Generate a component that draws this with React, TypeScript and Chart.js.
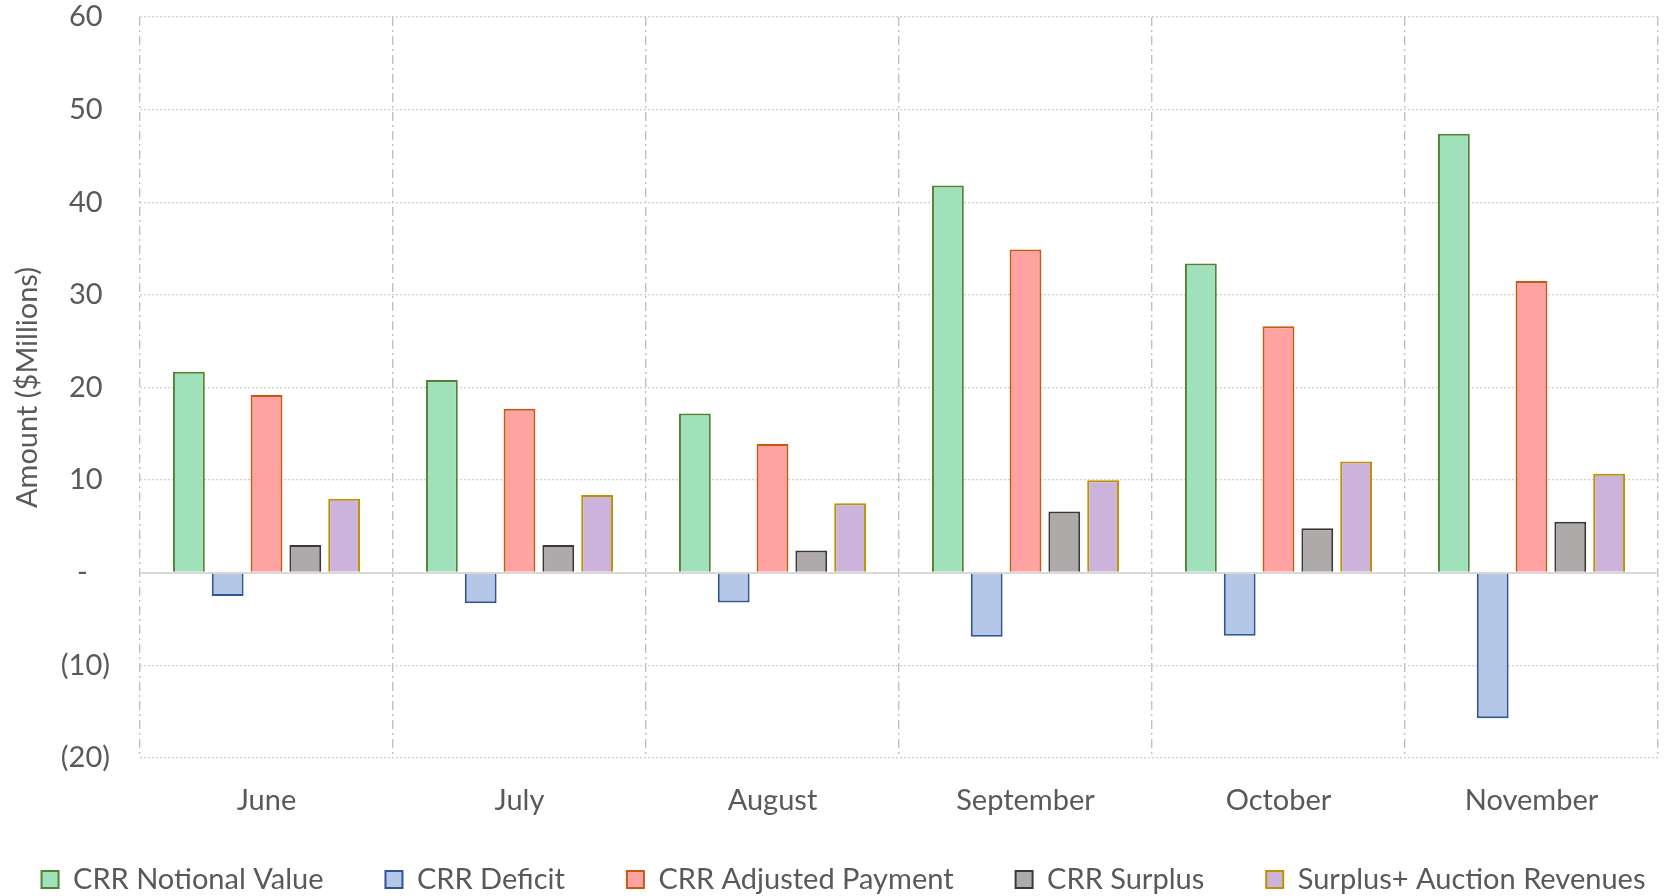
import React, { useEffect, useRef } from "react";
import { Chart, registerables } from "chart.js";

Chart.register(...registerables);

const months = ["June", "July", "August", "September", "October", "November"];
const notionalValue = [21.7, 20.8, 17.2, 41.8, 33.4, 47.4];
const deficit = [-2.5, -3.3, -3.2, -6.9, -6.8, -15.7];
const adjustedPayment = [19.2, 17.7, 13.9, 34.9, 26.6, 31.5];
const surplus = [3.0, 3.0, 2.4, 6.6, 4.8, 5.5];
const surplusAuction = [8.0, 8.4, 7.5, 10.0, 12.0, 10.7];

const seriesNames = [
  "CRR Notional Value",
  "CRR Deficit",
  "CRR Adjusted Payment",
  "CRR Surplus",
  "Surplus+ Auction Revenues",
];
const fills = ["#A0E1BC", "#B4C7E7", "#FFA2A2", "#AEAAAA", "#CBB3DB"];
const borders = ["#548235", "#2F5597", "#C55A11", "#3A3838", "#BF9000"];

const FONT = "Lato, 'Open Sans', sans-serif";
const TEXT = "#595959";
const FS = 29;

const layoutTweaks = {
  id: "layoutTweaks",
  afterInit(chart: any) {
    const legend = chart.legend;
    if (legend && typeof legend._fitRows === "function") {
      const orig = legend._fitRows.bind(legend);
      legend._fitRows = (...args: any[]) => {
        const mw = legend.maxWidth;
        legend.maxWidth = mw + 400;
        const r = orig(...args);
        legend.maxWidth = mw;
        return r;
      };
    }
  },
  afterLayout(chart: any) {
    const x = chart.scales.x;
    if (x) x.bottom = chart.height;
    const lg = chart.legend;
    if (lg) {
      lg.left -= 200;
      lg.right += 200;
    }
  },
};

export default function App() {
  const ref = useRef<HTMLCanvasElement | null>(null);
  useEffect(() => {
    if (!ref.current) return;
    const values = [notionalValue, deficit, adjustedPayment, surplus, surplusAuction];
    const chart = new Chart(ref.current, {
      type: "bar",
      data: {
        labels: months,
        datasets: values.map((d, i) => ({
          label: seriesNames[i],
          data: d,
          backgroundColor: fills[i],
          borderColor: borders[i],
          borderWidth: 2,
          categoryPercentage: 0.767,
          barPercentage: 0.82,
        })),
      },
      plugins: [layoutTweaks],
      options: {
        responsive: false,
        animation: false,
        devicePixelRatio: 1,
        layout: { padding: { left: 29, right: 9, top: 17, bottom: -8 } },
        plugins: {
          tooltip: { enabled: false },
          legend: {
            position: "bottom",
            labels: {
              boxWidth: 17,
              boxHeight: 17,
              padding: 62,
              color: TEXT,
              font: { family: FONT, size: FS },
            },
          },
        },
        scales: {
          x: {
            grid: {
              offset: true,
              drawTicks: false,
              color: "#c0c0c0",
              lineWidth: 1.4,
            },
            border: { display: false, dash: [9, 4, 2, 4] },
            ticks: {
              color: TEXT,
              padding: 25,
              font: { family: FONT, size: FS },
            },
            afterFit: (s: any) => {
              s.height = 45;
              s.paddingLeft = 0;
              s.paddingRight = 0;
            },
          },
          y: {
            min: -20,
            max: 60,
            ticks: {
              stepSize: 10,
              color: TEXT,
              padding: 30,
              font: { family: FONT, size: FS },
              callback: (v: any) => {
                const n = Number(v);
                if (n === 0) return "-   ";
                if (n < 0) return `(${-n})`;
                return `${n} `;
              },
            },
            grid: {
              drawTicks: false,
              color: (c: any) => (c.tick && c.tick.value === 0 ? "#d9d9d9" : "#cfcfcf"),
              lineWidth: (c: any) => (c.tick && c.tick.value === 0 ? 2 : 1.3),
            },
            border: {
              display: false,
              dash: (c: any) => (c.tick && c.tick.value === 0 ? [] : [2, 2]),
            },
            title: {
              display: true,
              text: "Amount ($Millions)",
              color: TEXT,
              font: { family: FONT, size: FS },
              padding: { top: -19, bottom: 0 },
            },
            afterFit: (s: any) => {
              s.width = 111;
              s.paddingTop = 0;
              s.paddingBottom = 0;
            },
          },
        },
      },
    });
    return () => chart.destroy();
  }, []);
  return (
    <div style={{ position: "absolute", left: 0, top: 0, width: 1667, height: 896, background: "#fff" }}>
      <canvas ref={ref} width={1667} height={896} />
    </div>
  );
}
